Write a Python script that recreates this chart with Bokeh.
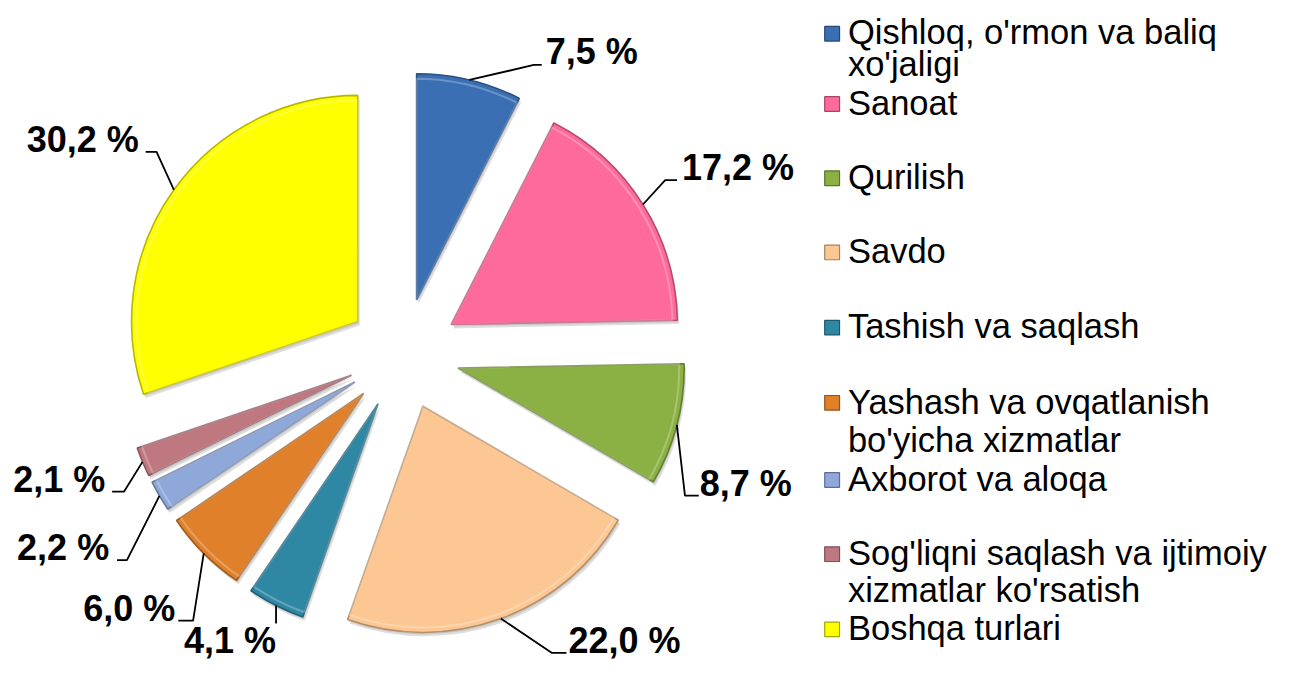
import numpy as np
from bokeh.plotting import figure
from bokeh.models import Range1d
from bokeh.embed import file_html
from bokeh.resources import INLINE
from bokeh.core.properties import value

# ---------------- data ----------------
categories = [
    "Qishloq, o'rmon va baliq\nxo'jaligi",
    "Sanoat",
    "Qurilish",
    "Savdo",
    "Tashish va saqlash",
    "Yashash va ovqatlanish\nbo'yicha xizmatlar",
    "Axborot va aloqa",
    "Sog'liqni saqlash va ijtimoiy\nxizmatlar ko'rsatish",
    "Boshqa turlari",
]
shares = [7.5, 17.2, 8.7, 22.0, 4.1, 6.0, 2.2, 2.1, 30.2]
colors = ["#3B6FB4", "#FF6A9C", "#8BB043", "#FCC793", "#2E88A4",
          "#E0802A", "#8EA8DA", "#C07880", "#FFFF00"]

# ---------------- layout (reference pixels, y downward) ----------------
REF_W, REF_H = 1299, 682
W, H = 1283, 666
KX, KY = W / REF_W, H / REF_H
CX, CY = 408, 362
R = 229
EXPLODE = 57
LABEL_FS = 36.0
LEGEND_FS = 34.5
BASELINE_FIX = 0.35  # em; measured shift of the renderer's alphabetic baseline
# elbow x, elbow y, end x, text x, text baseline y, align
label_layout = [
    (540, 66, 548, 552, 65, "left"),
    (673, 184, 685, 690, 184, "left"),
    (693, 507, 707, 708, 507, "left"),
    (558, 668, 573, 575, 668, "left"),
    (279, 638, 279, 279, 668, "right"),
    (195, 635, 180, 177, 635, "right"),
    (128, 573, 118, 110, 573, "right"),
    (125, 503, 113, 106, 503, "right"),
    (158, 155, 147, 140, 155, "right"),
]
legend_baselines = [45, 117, 193, 269, 346, 423, 502, 578, 655]
legend_line_gap = [32, 39, 39, 39, 39, 39, 39, 38, 39]
LEG_MARK_X = 842
LEG_TEXT_X = 858
FONT = value("Liberation Sans")


def Y(y):
    return REF_H - y


def TY(y, fs):
    # text baseline position, corrected for renderer offset
    return REF_H - y + BASELINE_FIX * fs / KY


def darker(hexc, f=0.72):
    h = hexc.lstrip("#")
    r, g, b = (int(h[i:i + 2], 16) for i in (0, 2, 4))
    return "#%02x%02x%02x" % (int(r * f), int(g * f), int(b * f))


p = figure(width=W, height=H,
           x_range=Range1d(0, REF_W), y_range=Range1d(0, REF_H),
           x_axis_type=None, y_axis_type=None,
           output_backend="svg", toolbar_location=None, min_border=0)
p.grid.visible = False
p.outline_line_color = None
p.background_fill_color = "white"

vals = np.array(shares, dtype=float)
cum = np.concatenate([[0.0], np.cumsum(vals)]) / vals.sum() * 360.0
a0, a1 = cum[:-1], cum[1:]
mid = np.radians((a0 + a1) / 2.0)
sx = CX + EXPLODE * np.sin(mid)
sy = Y(CY) + EXPLODE * np.cos(mid)
start = np.radians(90.0 - a1)
end = np.radians(90.0 - a0)

# soft shadow
p.wedge(x=sx + 2, y=sy - 4, radius=R, start_angle=start, end_angle=end,
        fill_color="#000000", fill_alpha=0.13, line_color=None)
p.wedge(x=sx + 1, y=sy - 2, radius=R, start_angle=start, end_angle=end,
        fill_color="#000000", fill_alpha=0.10, line_color=None)
# slices
p.wedge(x=sx, y=sy, radius=R, start_angle=start, end_angle=end,
        fill_color=colors, line_color=[darker(c) for c in colors], line_width=1.6)
# inner highlight
p.wedge(x=sx, y=sy, radius=R - 5, start_angle=start, end_angle=end,
        fill_color=None, line_color="#ffffff", line_alpha=0.25, line_width=2)

# leader lines and labels
lx, ly = [], []
for i, (ex, ey, hx, tx, ty, al) in enumerate(label_layout):
    x0 = sx[i] + R * np.sin(mid[i])
    y0 = sy[i] + R * np.cos(mid[i]) * KX / KY
    lx.append([x0, ex, hx])
    ly.append([y0, Y(ey), Y(ey)])
    txt = ("%.1f" % shares[i]).replace(".", ",") + " %"
    p.text(x=[tx], y=[TY(ty, LABEL_FS)], text=[txt], text_align=al,
           text_baseline="alphabetic", text_font=FONT, text_font_style="bold",
           text_font_size="%gpx" % LABEL_FS, text_color="#000000")
p.multi_line(xs=lx, ys=ly, line_color="#000000", line_width=1.8)

# legend
for i, cat in enumerate(categories):
    b = legend_baselines[i]
    p.rect(x=[LEG_MARK_X], y=[Y(b - 11)], width=15, height=15,
           fill_color=colors[i], line_color=darker(colors[i], 0.65), line_width=1.2)
    for k, line in enumerate(cat.split("\n")):
        p.text(x=[LEG_TEXT_X], y=[TY(b + k * legend_line_gap[i], LEGEND_FS)], text=[line],
               text_align="left", text_baseline="alphabetic",
               text_font=FONT, text_font_size="%gpx" % LEGEND_FS, text_color="#000000")

open("out.html", "w").write(file_html(p, INLINE))
